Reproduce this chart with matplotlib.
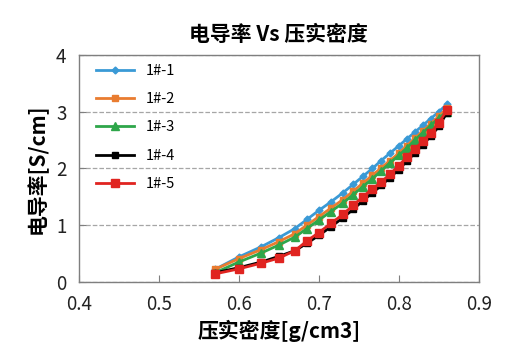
import matplotlib

matplotlib.use("agg")
import matplotlib.pyplot as plt  # noqa: E402

plt.rcParams["font.family"] = ["Noto Sans CJK SC", "DejaVu Sans"]

# compaction density (g/cm3), shared by the five samples
density = [0.57, 0.60, 0.628, 0.65, 0.67, 0.685, 0.70, 0.715, 0.73, 0.743, 0.755,
           0.767, 0.778, 0.789, 0.80, 0.81, 0.82, 0.83, 0.84, 0.85, 0.86]

# conductivity (S/cm)
s1 = [0.22, 0.44, 0.62, 0.78, 0.94, 1.10, 1.26, 1.41, 1.57, 1.72, 1.86,
      2.00, 2.14, 2.27, 2.40, 2.52, 2.64, 2.76, 2.88, 3.00, 3.13]
s2 = [0.22, 0.41, 0.57, 0.71, 0.85, 1.00, 1.15, 1.30, 1.45, 1.60, 1.74,
      1.88, 2.01, 2.14, 2.27, 2.40, 2.53, 2.66, 2.79, 2.92, 3.06]
s3 = [0.16, 0.35, 0.51, 0.65, 0.79, 0.94, 1.09, 1.24, 1.39, 1.54, 1.68,
      1.82, 1.96, 2.10, 2.23, 2.36, 2.50, 2.63, 2.76, 2.89, 3.00]
s4 = [0.16, 0.25, 0.35, 0.45, 0.55, 0.68, 0.82, 0.97, 1.13, 1.28, 1.43,
      1.57, 1.70, 1.84, 1.98, 2.13, 2.27, 2.42, 2.57, 2.74, 2.98]
s5 = [0.14, 0.23, 0.33, 0.42, 0.55, 0.72, 0.87, 1.03, 1.19, 1.35, 1.50,
      1.64, 1.76, 1.90, 2.05, 2.20, 2.34, 2.48, 2.63, 2.80, 3.03]

labels = ["1#-1", "1#-2", "1#-3", "1#-4", "1#-5"]
series = [s1, s2, s3, s4, s5]
colors = ["#3A9AD6", "#E97C30", "#2EA64A", "#000000", "#E02420"]
markers = ["D", "s", "^", "s", "s"]
msizes = [3.5, 5, 5.5, 5, 6]

fig = plt.figure(figsize=(5.32, 3.55), dpi=100)
ax = fig.add_axes([0.1485, 0.206, 0.7515, 0.639])

for y, lab, c, m, ms in zip(series, labels, colors, markers, msizes):
    ax.plot(density, y, color=c, marker=m, ms=ms, lw=2, label=lab)

ax.set_xlim(0.4, 0.9)
ax.set_ylim(0, 4)
ax.set_xticks([0.4, 0.5, 0.6, 0.7, 0.8, 0.9])
ax.set_xticklabels(["0.4", "0.5", "0.6", "0.7", "0.8", "0.9"])
ax.set_yticks([0, 1, 2, 3, 4])
ax.yaxis.grid(True, ls="--", color="#A6A6A6", lw=0.9)
ax.set_axisbelow(True)
for sp in ax.spines.values():
    sp.set_color("#7F7F7F")
    sp.set_linewidth(1)
ax.tick_params(direction="in", length=5, color="#7F7F7F", labelsize=13.5,
               labelcolor="#222222", pad=9)

ax.set_title("电导率 Vs 压实密度", fontsize=15, fontweight="bold", pad=10)
ax.set_xlabel("压实密度[g/cm3]", fontsize=15, fontweight="bold", labelpad=3)
ax.set_ylabel("电导率[S/cm]", fontsize=15, fontweight="bold", labelpad=6)

ax.legend(loc="upper left", frameon=False, fontsize=10.5, handlelength=2.6,
          labelspacing=0.98, bbox_to_anchor=(0.02, 1.0), borderaxespad=0.2)

fig.savefig("out.png", dpi=100)
